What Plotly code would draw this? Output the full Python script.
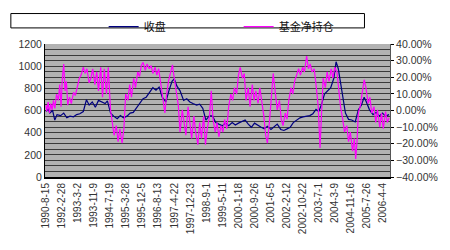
import plotly.graph_objects as go

# tick labels of the category (weekly) axis, one every 36 weeks
tick_dates = ["1990-8-15", "1992-2-28", "1993-3-2", "1993-11-9", "1994-7-19",
              "1995-3-28", "1995-12-5", "1996-8-13", "1997-4-22", "1997-12-23",
              "1998-9-1", "1999-5-11", "2000-1-18", "2000-9-26", "2001-6-5",
              "2002-2-12", "2002-10-22", "2003-7-1", "2004-3-9", "2004-11-16",
              "2005-7-26", "2006-4-4"]
tick_step = 36

# 收盘 (close index), week index and value
close_week = [0, 5, 9, 15, 20, 25, 33, 40, 47, 54, 62, 69, 76, 84, 91, 97, 104, 111, 118,
              126, 133, 138, 145, 152, 160, 167, 174, 182, 189, 196, 203, 211, 218, 225,
              232, 240, 247, 254, 261, 269, 276, 283, 288, 294, 301, 309, 316, 323, 330,
              338, 345, 352, 359, 367, 374, 381, 388, 396, 403, 410, 418, 425, 432, 439,
              447, 454, 461, 468, 476, 483, 490, 497, 505, 512, 519, 527, 534, 541, 548,
              555, 563, 570, 577, 585, 592, 599, 606, 612, 618, 625, 632, 639, 646, 651,
              656, 661, 666, 672, 679, 686, 694, 701, 708, 714, 719, 726, 734, 741, 748,
              755, 762, 770]
close_val = [591, 611, 577, 600, 514, 563, 554, 577, 534, 549, 543, 563, 571, 591, 697, 649,
             677, 629, 691, 677, 663, 686, 577, 549, 526, 554, 534, 549, 577, 583, 620, 663,
             706, 720, 763, 806, 783, 811, 720, 677, 777, 863, 886, 820, 777, 691, 706, 677,
             663, 649, 657, 620, 514, 554, 549, 491, 477, 463, 486, 463, 491, 469, 486, 497,
             514, 477, 449, 486, 463, 449, 434, 457, 429, 449, 477, 429, 420, 434, 449, 491,
             514, 534, 543, 549, 554, 571, 611, 591, 649, 749, 777, 806, 891, 1040, 977, 863,
             749, 577, 520, 514, 497, 606, 649, 720, 677, 606, 563, 583, 549, 577, 549, 563]

# 基金净持仓 (fund net position, %), week index and value
net_week = [0, 2, 5, 8, 11, 14, 17, 20, 24, 28, 31, 34, 37, 40, 43, 46, 49, 53, 57, 62, 66,
            70, 75, 79, 84, 88, 92, 97, 101, 105, 110, 114, 118, 123, 127, 131, 136, 140,
            145, 149, 153, 158, 162, 166, 171, 175, 179, 184, 188, 192, 197, 201, 206, 210,
            214, 218, 223, 227, 232, 236, 240, 245, 249, 253, 258, 262, 267, 271, 275, 280,
            284, 288, 293, 297, 301, 306, 310, 314, 319, 323, 327, 332, 336, 341, 345, 349,
            354, 358, 362, 367, 371, 375, 380, 384, 388, 393, 397, 401, 406, 410, 415, 419,
            423, 428, 432, 436, 441, 445, 449, 454, 458, 463, 467, 471, 476, 480, 484, 489,
            493, 497, 502, 506, 510, 515, 519, 524, 528, 532, 537, 541, 545, 550, 554, 558,
            563, 567, 571, 576, 580, 585, 589, 593, 597, 602, 606, 611, 615, 618, 622, 627,
            631, 635, 640, 644, 648, 653, 657, 661, 666, 670, 675, 679, 683, 688, 692, 695,
            698, 701, 705, 709, 714, 718, 723, 727, 731, 736, 740, 744, 749, 753, 757, 762,
            766, 770]
net_pct = [3.2, -0.6, 5.1, -1.5, 4.2, 0.4, 6.1, 1.3, 9.9, 6.1, 15.6, 2.3, 19.4, 28, 11.8,
           17.5, 3.2, 8, 4.2, 10.9, 9, 13.7, 19.4, 21.3, 26, 22.3, 25.1, 16.6, 19.4, 25.1,
           15.6, 23.2, 11.8, 26, 8, 25.1, 9.9, 26, 0.4, -7.2, -14.9, -9.1, -18.7, -11, -19.6,
           -11, 9.9, 6.1, 15.6, 8, 19.4, 13.7, 23.2, 20.4, 27, 29, 24.2, 28, 25.1, 27, 22.3,
           26, 21.3, 25.1, 15.6, 6.1, -1.5, 9.9, 17.5, 23.2, 27.4, 19.4, 11.8, 3.2, -13, 0.4,
           -7.2, -14.9, 2.3, -9.1, -16.8, -3.4, -13, -20.6, -7.2, -16.8, -3.4, -20.6, -11,
           -3.4, 11.8, -5.3, -13, -7.2, -15.8, -9.1, -13, -5.3, -11, 2.3, 9.9, 6.1, 13.7, 9.9,
           21.3, 26, 19.4, 22.3, 6.1, 13.7, 2.3, 15.6, 6.1, 11.8, 4.2, 13.7, 6.1, -3.4, -14.9,
           -19.6, -5.3, 6.1, 22.3, 9.9, 0.4, 6.1, -5.3, -9.1, -1.5, -5.3, 6.1, 13.7, 9.9, 17.5,
           21.3, 25.1, 21.3, 26, 23.2, 32.8, 25.1, 28, 23.2, 25.1, 15.6, 2.3, -22.5, -1.5, 19.4,
           13.7, 23.2, 17.5, 25.1, 19.4, 26, 23.2, 11.8, 2.3, -5.3, -13, -9.1, -18.7, -13,
           -24.4, -16.8, -29.1, -18.7, -1.5, 2.3, 9.9, 18.5, 13.7, 4.2, 8, -1.5, 2.3, -7.2, 0.4,
           -10.1, -1.5, -11, -0.6, -7.2, -4.4]

fig = go.Figure()
fig.add_trace(go.Scatter(x=close_week, y=close_val, name="收盘", mode="lines",
                         line=dict(color="#000080", width=1.2)))
fig.add_trace(go.Scatter(x=net_week, y=[v / 100 for v in net_pct], name="基金净持仓",
                         mode="lines", yaxis="y2",
                         line=dict(color="#ff00ff", width=1.2)))

font_family = "Liberation Sans, Arial, sans-serif"
grid_col = "#3a3a3a"

fig.update_layout(
    width=450, height=250,
    margin=dict(l=45, r=52, t=37, b=73),
    paper_bgcolor="white",
    plot_bgcolor="#b2b2b2",
    font=dict(family=font_family, size=10, color="#222"),
    showlegend=True,
    legend=dict(orientation="h", x=0.17, xanchor="left", y=1.24, yanchor="top",
                bgcolor="rgba(0,0,0,0)", borderwidth=0,
                font=dict(family="Noto Sans CJK SC", size=11, color="#111"),
                entrywidth=90, entrywidthmode="pixels", tracegroupgap=0,
                itemwidth=30),
    xaxis=dict(range=[-2, 772],
               tickvals=[i * tick_step for i in range(len(tick_dates))],
               ticktext=tick_dates, tickangle=-90,
               tickfont=dict(size=10, color="#333"),
               showgrid=False, zeroline=False,
               showline=True, linecolor="black", linewidth=2,
               ticks="", mirror=False),
    yaxis=dict(range=[0, 1200], dtick=200, showgrid=True, gridcolor=grid_col, gridwidth=1,
               minor=dict(dtick=50, showgrid=True, gridcolor=grid_col, gridwidth=1),
               zeroline=False, showline=True, linecolor="black", linewidth=1,
               ticks="", tickfont=dict(size=10.5, color="#333")),
    yaxis2=dict(range=[-0.4, 0.4], dtick=0.1, tickformat=".2%", overlaying="y",
                side="right", showgrid=False, zeroline=False,
                showline=True, linecolor="#555", linewidth=1,
                ticks="outside", ticklen=3, tickcolor="black",
                tickfont=dict(size=10.5, color="#333")),
    shapes=[dict(type="rect", xref="paper", yref="paper",
                 x0=-0.099, x1=0.926, y0=1.121, y1=1.229,
                 line=dict(color="black", width=1), fillcolor="rgba(0,0,0,0)")],
)

fig.write_html("out.html")
